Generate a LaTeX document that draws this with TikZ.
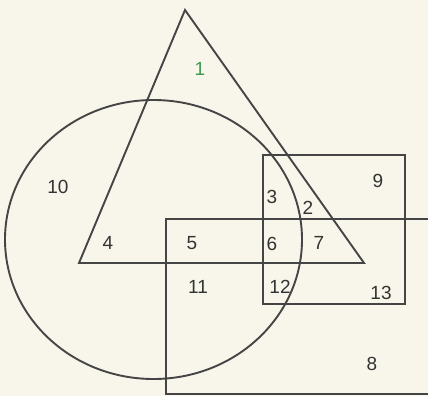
\documentclass[tikz,border=0pt]{standalone}
\usepackage{fontspec}
\setmainfont{Liberation Sans}
\begin{document}
\begin{tikzpicture}[x=1pt,y=-1pt,
  shapeline/.style={draw=linegray,line width=1.9pt,line join=miter},
  lbl/.style={text=txtgray,font=\fontsize{19}{19}\selectfont,inner sep=0pt}]
\definecolor{bgcream}{HTML}{F8F6EA}
\definecolor{linegray}{HTML}{454545}
\definecolor{txtgray}{HTML}{333333}
\definecolor{lblgreen}{HTML}{3A9A4E}
\fill[bgcream] (0,0) rectangle (428,396);
\useasboundingbox (0,0) rectangle (428,396);
\begin{scope}
\clip (0,0) rectangle (428,396);
\coordinate (apex) at (185,10);
\coordinate (bl) at (79,263);
\coordinate (br) at (364,263);
\draw[shapeline] (apex) -- (bl) -- (br) -- cycle;
\draw[shapeline] (153.5,239.5) ellipse [x radius=148.5, y radius=139.5];
\draw[shapeline] (263,155) rectangle (405,304);
\draw[shapeline] (166,219) rectangle (440,394);
\end{scope}
\node[lbl,text=lblgreen] (n1) at (200,69) {1};
\node[lbl] (n10) at (58,187) {10};
\node[lbl] (n9) at (378,181) {9};
\node[lbl] (n3) at (272,197) {3};
\node[lbl] (n2) at (308,208) {2};
\node[lbl] (n4) at (108,243) {4};
\node[lbl] (n5) at (192,243) {5};
\node[lbl] (n6) at (272,244) {6};
\node[lbl] (n7) at (319,243) {7};
\node[lbl] (n11) at (198,287) {11};
\node[lbl] (n12) at (280,287) {12};
\node[lbl] (n13) at (381,293) {13};
\node[lbl] (n8) at (372,364) {8};
\end{tikzpicture}
\end{document}
